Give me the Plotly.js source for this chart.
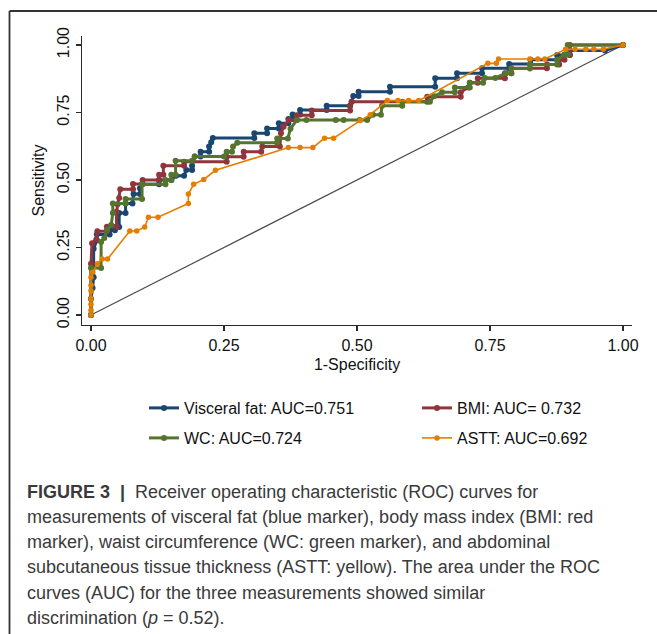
<!DOCTYPE html>
<html>
<head>
<meta charset="utf-8">
<script src="https://cdn.plot.ly/plotly-3.0.1.min.js"></script>
<style>
html,body{margin:0;padding:0;background:#fff;}
#chart{width:657px;height:634px;}
</style>
</head>
<body>
<div id="chart"></div>
<script>
// ---- data ----
const tickVals = [0, 0.25, 0.5, 0.75, 1];
const tickText = ["0.00", "0.25", "0.50", "0.75", "1.00"];

const seriesNames = ["Visceral fat: AUC=0.751", "BMI: AUC= 0.732", "WC: AUC=0.724", "ASTT: AUC=0.692"];

const diagX = [0, 1];
const diagY = [0, 1];

const visceralFpr = [0,0,0.003,0.005,0.005,0.011,0.011,0.035,0.035,0.045,0.045,0.053,0.053,0.065,0.065,0.078,0.08,0.092,0.092,0.096,0.128,0.128,0.151,0.16,0.175,0.179,0.19,0.19,0.195,0.206,0.206,0.222,0.222,0.226,0.229,0.307,0.307,0.331,0.331,0.353,0.353,0.371,0.371,0.379,0.379,0.393,0.393,0.443,0.443,0.487,0.49,0.493,0.503,0.503,0.562,0.562,0.647,0.647,0.688,0.688,0.735,0.735,0.786,0.786,0.826,0.826,0.876,0.876,0.9,0.9,0.966,1];
const visceralSens = [0,0.06,0.1,0.14,0.245,0.277,0.298,0.298,0.314,0.314,0.326,0.326,0.378,0.378,0.413,0.413,0.448,0.448,0.469,0.484,0.484,0.5,0.5,0.516,0.516,0.537,0.537,0.553,0.587,0.587,0.605,0.605,0.624,0.64,0.656,0.656,0.673,0.673,0.691,0.691,0.71,0.71,0.726,0.726,0.743,0.743,0.759,0.759,0.775,0.775,0.79,0.811,0.811,0.827,0.827,0.845,0.845,0.877,0.877,0.895,0.895,0.914,0.914,0.93,0.93,0.945,0.945,0.963,0.963,0.98,0.98,1];

const bmiFpr = [0,0,0.002,0.01,0.012,0.03,0.03,0.048,0.048,0.05,0.053,0.055,0.079,0.079,0.097,0.097,0.128,0.128,0.136,0.136,0.175,0.175,0.255,0.255,0.287,0.287,0.32,0.322,0.355,0.357,0.362,0.372,0.387,0.387,0.415,0.415,0.487,0.487,0.49,0.632,0.632,0.695,0.695,0.709,0.712,0.727,0.727,0.778,0.778,0.79,0.79,0.857,0.857,0.88,0.88,0.89,0.89,0.9,0.9,1];
const bmiSens = [0,0.19,0.266,0.28,0.31,0.31,0.327,0.327,0.382,0.41,0.433,0.466,0.466,0.485,0.485,0.5,0.5,0.519,0.519,0.553,0.553,0.568,0.568,0.586,0.586,0.605,0.605,0.624,0.624,0.673,0.697,0.722,0.722,0.74,0.74,0.757,0.757,0.774,0.79,0.79,0.808,0.808,0.825,0.843,0.86,0.86,0.877,0.877,0.895,0.895,0.914,0.914,0.928,0.928,0.945,0.945,0.963,0.963,1,1];

const wcFpr = [0,0,0.019,0.019,0.025,0.03,0.038,0.041,0.041,0.065,0.065,0.096,0.096,0.14,0.14,0.151,0.151,0.159,0.159,0.19,0.195,0.25,0.255,0.265,0.267,0.275,0.35,0.35,0.37,0.375,0.387,0.405,0.46,0.475,0.505,0.519,0.53,0.545,0.547,0.585,0.585,0.637,0.645,0.66,0.684,0.684,0.712,0.712,0.737,0.74,0.76,0.78,0.79,0.79,0.825,0.825,0.876,0.876,0.89,0.896,0.896,1];
const wcSens = [0,0.174,0.174,0.27,0.285,0.315,0.333,0.378,0.413,0.413,0.43,0.43,0.484,0.484,0.5,0.5,0.519,0.519,0.571,0.571,0.587,0.587,0.605,0.605,0.624,0.638,0.638,0.654,0.654,0.69,0.722,0.722,0.722,0.722,0.722,0.722,0.742,0.742,0.775,0.775,0.79,0.79,0.81,0.825,0.825,0.843,0.843,0.86,0.86,0.878,0.878,0.895,0.895,0.913,0.913,0.928,0.928,0.945,0.965,0.965,1,1];

const asttFpr = [0,0,0,0,0,0,0,0.003,0.012,0.021,0.031,0.073,0.086,0.101,0.108,0.126,0.183,0.183,0.193,0.212,0.234,0.371,0.393,0.417,0.439,0.456,0.506,0.525,0.557,0.577,0.597,0.616,0.746,0.762,0.766,0.825,0.84,0.853,0.892,0.91,0.93,0.945,0.963,1];
const asttSens = [0,0.018,0.04,0.06,0.09,0.11,0.14,0.158,0.19,0.207,0.207,0.311,0.311,0.326,0.362,0.362,0.413,0.448,0.484,0.502,0.536,0.62,0.62,0.62,0.655,0.655,0.72,0.742,0.794,0.794,0.794,0.794,0.932,0.932,0.948,0.948,0.948,0.948,0.984,0.984,0.984,0.984,0.984,1];

const captionLines = [
  "<b>FIGURE 3  |</b>  Receiver operating characteristic (ROC) curves for",
  "measurements of visceral fat (blue marker), body mass index (BMI: red",
  "marker), waist circumference (WC: green marker), and abdominal",
  "subcutaneous tissue thickness (ASTT: yellow). The area under the ROC",
  "curves (AUC) for the three measurements showed similar",
  "discrimination (<i>p</i> = 0.52)."
];

// ---- styling ----
const colors = ["#1a476f", "#90353b", "#55752f", "#e37e00"];
const FONT = "Liberation Sans, Arial, Helvetica, sans-serif";

// pixel helpers for placing non-data elements
const ML = 82, MT = 36, PW = 550, PH = 289;
const px2paperX = p => (p - ML) / PW;
const py2paperY = p => (MT + PH - p) / PH;

const seriesX = [visceralFpr, bmiFpr, wcFpr, asttFpr];
const seriesY = [visceralSens, bmiSens, wcSens, asttSens];
const legendIds = ["legend", "legend2", "legend3", "legend4"];

const traces = [{
  x: diagX, y: diagY, type: "scatter", mode: "lines",
  line: {color: "#4a4a4a", width: 1.2}, showlegend: false, hoverinfo: "skip"
}];
for (let i = 0; i < 4; i++) {
  traces.push({
    x: seriesX[i], y: seriesY[i], type: "scatter", mode: "lines+markers",
    name: seriesNames[i], legend: legendIds[i],
    line: {color: colors[i], width: i === 3 ? 1.6 : 3},
    marker: {color: colors[i], size: i === 3 ? 5.5 : 6, symbol: "circle"}
  });
}

// legends positions (left px, row centre px)
const legPos = [[144, 408], [417, 408], [144, 438], [417, 438]];
const layout = {
  width: 657, height: 634,
  margin: {l: ML, r: 657 - ML - PW, t: MT, b: 634 - MT - PH, pad: 0},
  paper_bgcolor: "#fff", plot_bgcolor: "#fff",
  font: {family: FONT, size: 16, color: "#111"},
  xaxis: {
    range: [-0.0169, 1.0169], tickvals: tickVals, ticktext: tickText,
    showline: true, linecolor: "#2b2b2b", linewidth: 1.3, mirror: false,
    ticks: "outside", ticklen: 5, tickwidth: 1.3, tickcolor: "#2b2b2b",
    showgrid: false, zeroline: false, tickfont: {size: 16, color: "#111"},
    title: {text: "1-Specificity", font: {size: 16, color: "#111"}, standoff: 6}
  },
  yaxis: {
    range: [-0.037, 1.0333], tickvals: tickVals, ticktext: tickText,
    showline: true, linecolor: "#2b2b2b", linewidth: 1.3, mirror: false,
    ticks: "outside", ticklen: 5, tickwidth: 1.3, tickcolor: "#2b2b2b",
    showgrid: false, zeroline: false, tickangle: -90, tickfont: {size: 16, color: "#111"},
    title: {text: "Sensitivity", font: {size: 16, color: "#111"}, standoff: 6}
  },
  annotations: captionLines.map((t, k) => ({
    text: t, xref: "paper", yref: "paper", x: px2paperX(25), y: py2paperY(491.7 + 25.2 * k),
    xanchor: "left", yanchor: "middle", showarrow: false, align: "left",
    font: {family: FONT, size: 18, color: "#3a3a3a"}
  })),
  shapes: [
    {type: "line", xref: "paper", yref: "paper", x0: px2paperX(9.5), x1: px2paperX(657), y0: py2paperY(11), y1: py2paperY(11), line: {color: "#333", width: 1.8}},
    {type: "line", xref: "paper", yref: "paper", x0: px2paperX(9.5), x1: px2paperX(9.5), y0: py2paperY(11), y1: py2paperY(634), line: {color: "#333", width: 1.8}}
  ]
};
legendIds.forEach((id, i) => {
  layout[id] = {
    x: px2paperX(legPos[i][0]), y: py2paperY(legPos[i][1]), xanchor: "left", yanchor: "middle",
    orientation: "h", bgcolor: "rgba(0,0,0,0)", borderwidth: 0,
    font: {family: FONT, size: 16, color: "#111"}
  };
});

Plotly.newPlot("chart", traces, layout, {displayModeBar: false, staticPlot: true});
</script>
</body>
</html>
